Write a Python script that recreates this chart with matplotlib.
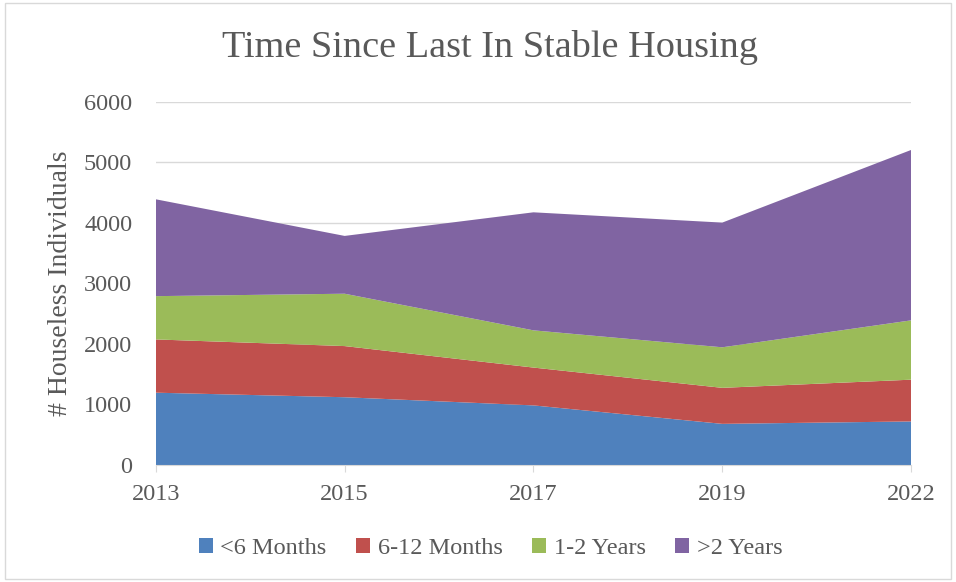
import numpy as np
import matplotlib.pyplot as plt

plt.rcParams['font.family'] = ['Liberation Serif', 'DejaVu Serif']

years = ['2013', '2015', '2017', '2019', '2022']
lt6m = [1195, 1120, 985, 680, 720]
m6to12 = [880, 845, 625, 595, 690]
y1to2 = [715, 865, 615, 670, 980]
gt2y = [1600, 955, 1950, 2060, 2815]
labels = ['<6 Months', '6-12 Months', '1-2 Years', '>2 Years']
colors = ['#4F81BD', '#C0504D', '#9BBB59', '#8064A2']

txt = '#595959'
fig = plt.figure(figsize=(9.56, 5.82), dpi=100)
ax = fig.add_axes([0.163, 0.201, 0.79, 0.624])

x = np.arange(len(years))
ax.stackplot(x, lt6m, m6to12, y1to2, gt2y, labels=labels, colors=colors, zorder=2)

ax.set_xlim(0, len(years) - 1)
ax.set_ylim(0, 6000)
ax.set_yticks(range(0, 6001, 1000))
ax.set_xticks(x)
ax.set_xticklabels(years)
ax.grid(axis='y', color='#d9d9d9', linewidth=1, zorder=0)
ax.set_axisbelow(True)
for s in ['top', 'right', 'left']:
    ax.spines[s].set_visible(False)
ax.spines['bottom'].set_color('#d9d9d9')
ax.spines['bottom'].set_zorder(3)
ax.tick_params(axis='y', length=0, labelsize=17.5, colors=txt, pad=17)
ax.tick_params(axis='x', length=5, color='#d9d9d9', labelsize=17.5, labelcolor=txt, pad=9)
ax.set_ylabel('# Houseless Individuals', fontsize=20, color=txt, labelpad=8)

fig.text(0.513, 0.918, 'Time Since Last In Stable Housing', fontsize=27.5, color=txt,
         ha='center', va='center')
fig.legend(*ax.get_legend_handles_labels(), loc='center', bbox_to_anchor=(0.513, 0.058),
           ncol=4, frameon=False, fontsize=17.5, labelcolor=txt, handlelength=0.6,
           handleheight=0.6, handletextpad=0.3, columnspacing=1.2)

fig.patches.append(plt.Rectangle((0.005, 0.005), 0.99, 0.99, transform=fig.transFigure,
                                 fill=False, edgecolor='#d9d9d9', linewidth=1))
fig.savefig('out.png', dpi=100)
